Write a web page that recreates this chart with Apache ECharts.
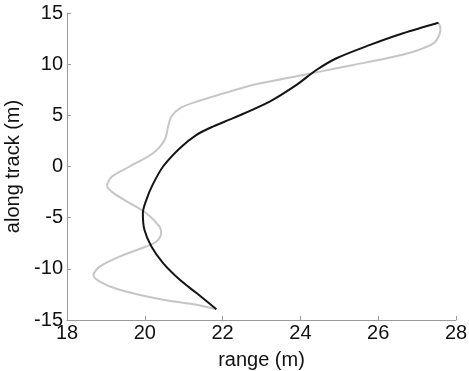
<!DOCTYPE html>
<html>
<head>
<meta charset="utf-8">
<script src="https://cdn.jsdelivr.net/npm/echarts@6/dist/echarts.min.js"></script>
<style>
  html, body { margin: 0; padding: 0; background: #fff; }
  #chart { width: 469px; height: 371px; }
</style>
</head>
<body>
<div id="chart"></div>
<script>
// gray track (from bottom up)
const grayRange = [21.84, 21.33, 20.47, 19.35, 18.84, 18.68, 18.84, 19.35, 20.04, 20.3, 20.42, 20.38, 20.04, 19.61, 19.2, 19.03, 19.15, 19.61, 20.21, 20.51, 20.6, 20.68, 20.9, 21.33, 21.75, 22.18, 22.78, 23.64, 24.5, 25.36, 26.22, 26.9, 27.42, 27.57, 27.6, 27.55];
const grayTrack = [-13.94, -13.5, -13.03, -12.05, -11.24, -10.6, -9.78, -8.8, -7.82, -7.33, -6.5, -5.87, -4.56, -3.58, -2.6, -1.9, -1.0, 0.0, 1.3, 2.6, 3.9, 4.87, 5.69, 6.34, 6.83, 7.32, 7.97, 8.62, 9.27, 9.92, 10.58, 11.22, 12.04, 12.85, 13.5, 14.05];

// black track (from bottom up)
const blackRange = [21.84, 21.33, 20.9, 20.47, 20.17, 19.99, 19.95, 20.04, 20.2, 20.47, 20.9, 21.33, 21.75, 22.27, 23.21, 23.9, 24.41, 24.93, 25.79, 26.64, 27.55];
const blackTrack = [-13.94, -12.37, -11.07, -9.44, -7.82, -6.19, -4.56, -3.26, -1.8, 0.0, 1.79, 3.09, 3.9, 4.72, 6.34, 7.97, 9.43, 10.58, 11.88, 13.02, 14.05];

const pairs = (xs, ys) => xs.map((x, i) => [x, ys[i]]);

const font = '"Liberation Sans", Arial, sans-serif';
const axisGray = '#9a9a9a';

const chart = echarts.init(document.getElementById('chart'));
chart.setOption({
    animation: false,
    grid: { left: 67, right: 13, top: 13, bottom: 51, outerBoundsMode: 'none', containLabel: false },
    xAxis: {
        type: 'value',
        min: 18,
        max: 28,
        interval: 2,
        name: 'range (m)',
        nameLocation: 'middle',
        nameGap: 30,
        nameTextStyle: { fontFamily: font, fontSize: 20, color: '#111' },
        axisLine: { onZero: false, lineStyle: { color: axisGray, width: 1 } },
        axisTick: { inside: true, length: 4, lineStyle: { color: axisGray } },
        axisLabel: { fontFamily: font, fontSize: 20, color: '#111', margin: 3 },
        splitLine: { show: false }
    },
    yAxis: {
        type: 'value',
        min: -15,
        max: 15,
        interval: 5,
        name: 'along track (m)',
        nameLocation: 'middle',
        nameGap: 40,
        nameTextStyle: { fontFamily: font, fontSize: 20, color: '#111' },
        axisLine: { show: true, onZero: false, lineStyle: { color: axisGray, width: 1 } },
        axisTick: { show: true, inside: true, length: 4, lineStyle: { color: axisGray } },
        axisLabel: { fontFamily: font, fontSize: 20, color: '#111', margin: 4 },
        splitLine: { show: false }
    },
    series: [
        {
            type: 'line',
            data: pairs(grayRange, grayTrack),
            smooth: 0.3,
            showSymbol: false,
            lineStyle: { color: '#c6c6c6', width: 2 }
        },
        {
            type: 'line',
            data: pairs(blackRange, blackTrack),
            smooth: 0.3,
            showSymbol: false,
            lineStyle: { color: '#151515', width: 2 }
        }
    ]
});
</script>
</body>
</html>
